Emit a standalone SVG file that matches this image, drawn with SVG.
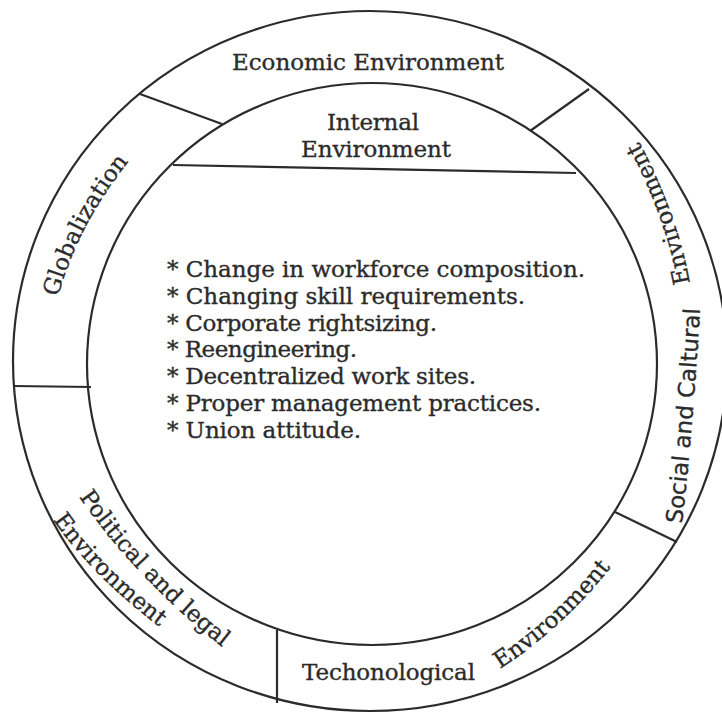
<svg xmlns="http://www.w3.org/2000/svg" width="722" height="713" viewBox="0 0 722 713">
<style>
.ln{fill:none;stroke:#2b2b2b;stroke-width:2.2}
.t{font-family:"DejaVu Serif","Liberation Serif",serif;font-size:23px;fill:#2b2b2b;stroke:#2b2b2b;stroke-width:0.35}
.s{font-family:"DejaVu Sans","Liberation Sans",sans-serif;font-size:23px;fill:#2b2b2b;stroke:#2b2b2b;stroke-width:0.3}
</style>
<defs>
<path id="pGlob" d="M58 297 Q78 224 130 160"/>
<path id="pPol1" d="M79 497 Q139 583 230 653"/>
<path id="pPol2" d="M53 520 Q95 580 173 637"/>
<path id="pTechEnv" d="M500 669 Q569 624 622 553"/>
<path id="pSoc" d="M682 524 Q695 412 701 290"/>
<path id="pSocEnv" d="M690 283 Q675 202 628 122"/>
</defs>
<rect width="722" height="713" fill="#ffffff"/>
<g id="rings">
<ellipse class="ln" cx="370" cy="361" rx="357" ry="350"/>
<ellipse class="ln" cx="372" cy="364" rx="285" ry="281"/>
</g>
<g id="connectors">
<line class="ln" x1="140" y1="94" x2="222" y2="124"/>
<line class="ln" x1="589" y1="89" x2="530" y2="131"/>
<line class="ln" x1="13" y1="386" x2="91" y2="387"/>
<line class="ln" x1="277" y1="630" x2="277" y2="703"/>
<line class="ln" x1="615" y1="512" x2="677" y2="542"/>
<line class="ln" x1="173" y1="165" x2="576" y2="173"/>
</g>
<g id="economic">
<text class="t" x="368" y="70" text-anchor="middle" textLength="272">Economic Environment</text>
</g>
<g id="internal">
<text class="t" x="373" y="130" text-anchor="middle" textLength="92">Internal</text>
<text class="t" x="376" y="157" text-anchor="middle" textLength="150">Environment</text>
</g>
<g id="internal-list">
<text class="t" x="167" y="277" textLength="418">* Change in workforce composition.</text>
<text class="t" x="167" y="304" textLength="358">* Changing skill requirements.</text>
<text class="t" x="167" y="331" textLength="270">* Corporate rightsizing.</text>
<text class="t" x="167" y="357" textLength="190">* Reengineering.</text>
<text class="t" x="167" y="384" textLength="309">* Decentralized work sites.</text>
<text class="t" x="167" y="411" textLength="374">* Proper management practices.</text>
<text class="t" x="167" y="438" textLength="194">* Union attitude.</text>
</g>
<g id="globalization">
<text class="t"><textPath href="#pGlob">Globalization</textPath></text>
</g>
<g id="political">
<text class="t"><textPath href="#pPol1">Political and legal</textPath></text>
<text class="t"><textPath href="#pPol2">Environment</textPath></text>
</g>
<g id="technological">
<text class="t" x="302" y="680" textLength="173">Techonological</text>
<text class="t"><textPath href="#pTechEnv">Environment</textPath></text>
</g>
<g id="social">
<text class="s"><textPath href="#pSoc">Social and Caltural</textPath></text>
<text class="t"><textPath href="#pSocEnv">Environment</textPath></text>
</g>
</svg>
